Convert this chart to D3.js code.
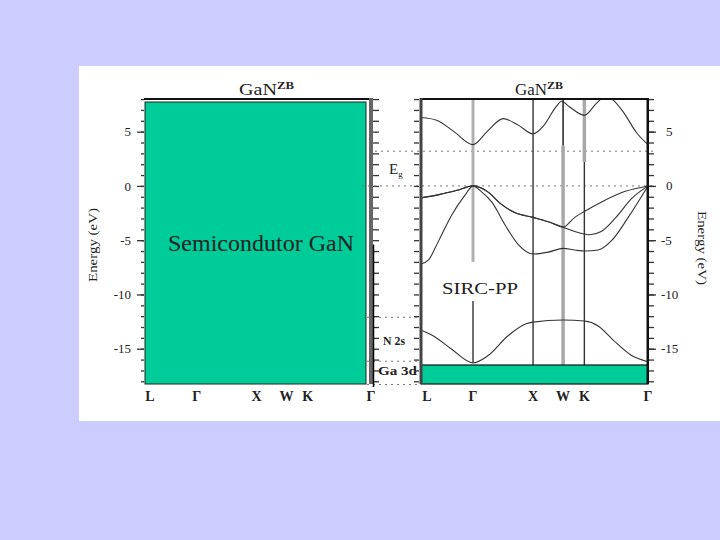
<!DOCTYPE html>
<html>
<head>
<meta charset="utf-8">
<script src="https://cdn.jsdelivr.net/npm/d3@7.9.0/dist/d3.min.js"></script>
<style>
  body { margin: 0; background: #ccccff; }
  svg { display: block; }
  text { font-family: "Liberation Serif", "Times New Roman", serif; fill: #222; }
</style>
</head>
<body>
<svg id="chart" width="720" height="540"></svg>
<script>
// k-path (fcc) : L - Γ - X - W - K - Γ, distances in 2π/a
const kLabels = ["L", "Γ", "X", "W", "K", "Γ"];
const kTicks = [0, 0.866, 1.866, 2.366, 2.72, 3.78];

// energy ticks (eV)
const majorTicks = [5, 0, -5, -10, -15];
const minorTicks = d3.range(-18, 9);

// bands: [k, E]
const conduction = [[0, 6.3], [0.26, 6.05], [0.55, 5.0], [0.866, 3.8], [1.1, 5.0], [1.37, 6.2],
  [1.62, 5.6], [1.866, 4.8], [2.05, 5.6], [2.25, 7.3], [2.34, 7.8], [2.47, 7.3], [2.72, 6.5],
  [2.92, 7.6], [3.08, 8.3], [3.2, 7.9], [3.37, 6.8], [3.59, 4.9], [3.78, 3.8]];
const valence1 = [[0, -1.1], [0.3, -0.8], [0.6, -0.4], [0.866, 0], [1.1, -0.5], [1.34, -1.7],
  [1.56, -2.45], [1.866, -2.9], [2.12, -3.3], [2.366, -3.8], [2.56, -2.9], [2.72, -2.35],
  [3.0, -1.5], [3.4, -0.5], [3.78, 0]];
const valence2 = [[0, -1.1], [0.3, -0.8], [0.6, -0.4], [0.866, 0], [1.1, -0.5], [1.34, -1.7],
  [1.56, -2.45], [1.866, -2.9], [2.12, -3.3], [2.366, -3.8], [2.62, -4.3], [2.81, -4.5],
  [3.0, -4.2], [3.23, -3.0], [3.51, -1.15], [3.78, 0]];
const valence3 = [[0, -7.2], [0.13, -6.8], [0.233, -5.75], [0.344, -4.5], [0.51, -2.7],
  [0.733, -0.85], [0.866, 0], [1.0, -0.5], [1.18, -1.5], [1.4, -3.6], [1.62, -5.4],
  [1.866, -6.27], [2.12, -6.1], [2.366, -5.75], [2.56, -5.9], [2.72, -6.0], [2.95, -5.9],
  [3.18, -5.0], [3.45, -2.9], [3.78, 0]];
const n2s = [[0, -13.3], [0.2, -13.8], [0.5, -15.0], [0.866, -16.3], [1.1, -15.7], [1.45, -13.8],
  [1.75, -12.7], [1.866, -12.55], [2.366, -12.35], [2.72, -12.45], [2.95, -12.9], [3.2, -14.2],
  [3.5, -15.6], [3.78, -16.2]];
const ga3d = [-16.5, -18.25];

// dotted reference levels
const gapLines = [3.2, 0];
const coreLines = [-12.1, -16.15, -18.3];

const svg = d3.select('#chart');
svg.append('rect').attr('x', 79).attr('y', 66).attr('width', 641).attr('height', 355).attr('fill', '#fff');

const y = d3.scaleLinear().domain([-18.25, 8.1]).range([384, 98]);
const xL = d3.scaleLinear().domain([0, 3.78]).range([145, 371]);
const xR = d3.scaleLinear().domain([0, 3.78]).range([421, 648]);

function styleAxis(g) {
  g.select('.domain').remove();
  g.selectAll('.tick line').attr('stroke', '#333').attr('stroke-width', 1.3);
  g.selectAll('.tick text').attr('font-size', 13).attr('fill', '#222')
    .attr('font-family', '"Liberation Serif", serif');
}

// ---------- left panel ----------
const left = svg.append('g');
left.append('g').attr('transform', 'translate(144,0)')
  .call(d3.axisLeft(y).tickValues(minorTicks).tickSize(3).tickFormat(''))
  .call(styleAxis);
left.append('g').attr('transform', 'translate(144,0)')
  .call(d3.axisLeft(y).tickValues(majorTicks).tickSize(7).tickPadding(6).tickFormat(d => String(d)))
  .call(styleAxis);
left.append('line').attr('x1', 144).attr('x2', 373).attr('y1', 99).attr('y2', 99)
  .attr('stroke', '#111').attr('stroke-width', 2);
left.append('rect').attr('x', 369).attr('y', 98).attr('width', 4).attr('height', 286).attr('fill', '#666');
left.append('g').attr('transform', 'translate(373,0)')
  .call(d3.axisRight(y).tickValues(minorTicks).tickSize(6).tickFormat(''))
  .call(styleAxis);
left.append('rect').attr('x', 145).attr('y', 102).attr('width', 221).attr('height', 282)
  .attr('fill', '#00cc99').attr('stroke', '#222').attr('stroke-width', 1);
left.append('text').attr('x', 168).attr('y', 251).attr('font-size', 24).attr('fill', '#111')
  .text('Semicondutor GaN');
left.append('text').attr('transform', 'translate(97,245) rotate(-90)').attr('text-anchor', 'middle')
  .attr('font-size', 13).attr('textLength', 74).attr('lengthAdjust', 'spacingAndGlyphs')
  .text('Energy (eV)');
left.selectAll('text.klab').data(kLabels).join('text').attr('class', 'klab')
  .attr('x', (d, i) => xL(kTicks[i]) + (i === 0 ? 5 : 0))
  .attr('y', 401).attr('text-anchor', 'middle').attr('font-size', 14).attr('font-weight', 'bold')
  .text(d => d);
left.append('text').attr('x', 239).attr('y', 95).attr('font-size', 16)
  .attr('textLength', 38).attr('lengthAdjust', 'spacingAndGlyphs').text('GaN');
left.append('text').attr('x', 277).attr('y', 89).attr('font-size', 10).attr('font-weight', 'bold')
  .attr('textLength', 17).attr('lengthAdjust', 'spacingAndGlyphs').text('ZB');

// ---------- middle strip ----------
const mid = svg.append('g');
mid.selectAll('line.gap').data(gapLines).join('line').attr('class', 'gap')
  .attr('x1', (d, i) => i === 0 ? 375 : 362).attr('x2', 655)
  .attr('y1', d => y(d)).attr('y2', d => y(d))
  .attr('stroke', '#777').attr('stroke-width', 1).attr('stroke-dasharray', '2,4');
mid.selectAll('line.core').data(coreLines).join('line').attr('class', 'core')
  .attr('x1', 367).attr('x2', 421)
  .attr('y1', d => y(d)).attr('y2', d => y(d))
  .attr('stroke', '#777').attr('stroke-width', 1).attr('stroke-dasharray', '2,4');
mid.append('line').attr('x1', 373.5).attr('x2', 373.5).attr('y1', y(-5.4)).attr('y2', 387)
  .attr('stroke', '#000').attr('stroke-width', 1.5);
const eg = mid.append('text').attr('x', 389).attr('y', 174).attr('font-size', 15);
eg.append('tspan').text('E');
eg.append('tspan').attr('font-size', 9).attr('dy', 3).text('g');
mid.append('text').attr('x', 383).attr('y', 345).attr('font-size', 12).attr('font-weight', 'bold')
  .attr('textLength', 22).attr('lengthAdjust', 'spacingAndGlyphs').text('N 2s');
mid.append('text').attr('x', 378).attr('y', 375).attr('font-size', 12).attr('font-weight', 'bold')
  .attr('textLength', 39).attr('lengthAdjust', 'spacingAndGlyphs').text('Ga 3d');

// ---------- right panel ----------
const right = svg.append('g');
svg.append('defs').append('clipPath').attr('id', 'clipR')
  .append('rect').attr('x', 421).attr('y', 98).attr('width', 227).attr('height', 286);

// high-symmetry verticals: [kIndex, Etop, Ebottom, colour, width]
const vSegs = [
  [1, 8.1, -7.0, '#b0b0b0', 3], [1, -10.6, -16.3, '#333', 1.4],
  [2, 8.1, -16.5, '#333', 1.4],
  [3, 8.1, 3.7, '#111', 1.4], [3, 3.7, -16.5, '#a8a8a8', 3.5],
  [4, 8.1, 2.2, '#a8a8a8', 3.5], [4, 2.2, -16.5, '#333', 1.4]
];
right.selectAll('line.vk').data(vSegs).join('line').attr('class', 'vk')
  .attr('x1', d => xR(kTicks[d[0]])).attr('x2', d => xR(kTicks[d[0]]))
  .attr('y1', d => y(d[1])).attr('y2', d => y(d[2]))
  .attr('stroke', d => d[3]).attr('stroke-width', d => d[4]);

const line = d3.line().x(d => xR(d[0])).y(d => y(d[1])).curve(d3.curveMonotoneX);
right.append('g').attr('clip-path', 'url(#clipR)')
  .selectAll('path').data([conduction, valence1, valence2, valence3, n2s]).join('path')
  .attr('d', line).attr('fill', 'none').attr('stroke', '#333').attr('stroke-width', 1.1);

right.append('rect').attr('x', xR(0)).attr('y', y(ga3d[0]))
  .attr('width', xR(3.78) - xR(0)).attr('height', y(ga3d[1]) - y(ga3d[0]))
  .attr('fill', '#00cc99').attr('stroke', '#111').attr('stroke-width', 1.2);

right.append('line').attr('x1', 420).attr('x2', 649).attr('y1', 99).attr('y2', 99)
  .attr('stroke', '#111').attr('stroke-width', 2);
right.append('rect').attr('x', 419.5).attr('y', 98).attr('width', 3).attr('height', 286).attr('fill', '#444');
right.append('rect').attr('x', 646.5).attr('y', 98).attr('width', 2.5).attr('height', 286).attr('fill', '#111');
right.append('g').attr('transform', 'translate(419,0)')
  .call(d3.axisLeft(y).tickValues(minorTicks).tickSize(5).tickFormat(''))
  .call(styleAxis);
right.append('g').attr('transform', 'translate(649,0)')
  .call(d3.axisRight(y).tickValues(minorTicks).tickSize(5).tickFormat(''))
  .call(styleAxis);
right.append('g').attr('transform', 'translate(649,0)')
  .call(d3.axisRight(y).tickValues(majorTicks).tickSize(7).tickFormat(''))
  .call(styleAxis);
right.selectAll('text.ylab').data(majorTicks).join('text').attr('class', 'ylab')
  .attr('x', d => d < 0 ? 661 : 666).attr('y', d => y(d) + 4.5).attr('font-size', 13)
  .text(d => String(d));
right.append('text').attr('transform', 'translate(698,248) rotate(90)').attr('text-anchor', 'middle')
  .attr('font-size', 13).attr('textLength', 74).attr('lengthAdjust', 'spacingAndGlyphs')
  .text('Energy (eV)');
right.selectAll('text.klab').data(kLabels).join('text').attr('class', 'klab')
  .attr('x', (d, i) => xR(kTicks[i]) + (i === 0 ? 6 : 0))
  .attr('y', 401).attr('text-anchor', 'middle').attr('font-size', 14).attr('font-weight', 'bold')
  .text(d => d);
right.append('text').attr('x', 442).attr('y', 294).attr('font-size', 16)
  .attr('textLength', 76).attr('lengthAdjust', 'spacingAndGlyphs').text('SIRC-PP');
right.append('text').attr('x', 515).attr('y', 95).attr('font-size', 16)
  .attr('textLength', 32).attr('lengthAdjust', 'spacingAndGlyphs').text('GaN');
right.append('text').attr('x', 547).attr('y', 89).attr('font-size', 10).attr('font-weight', 'bold')
  .attr('textLength', 16).attr('lengthAdjust', 'spacingAndGlyphs').text('ZB');
</script>
</body>
</html>
